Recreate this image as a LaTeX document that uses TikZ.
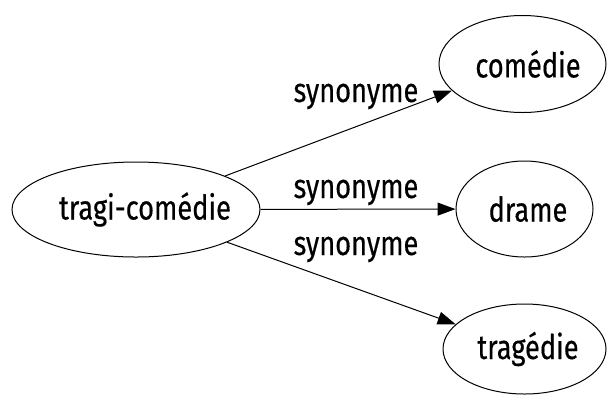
\documentclass[tikz,border=0pt]{standalone}
\usepackage{fontspec}
\setmainfont{Fira Sans}[FakeStretch=0.8,FakeBold=0.4]
\usetikzlibrary{arrows.meta,shapes.geometric}
\newcommand{\shiftedtext}[2]{\makebox[0pt][c]{\hspace*{#1}#2}}
\begin{document}
\begin{tikzpicture}[x=1bp,y=-1bp,
  word/.style={draw,ellipse,line width=1bp,inner sep=0pt,font=\fontsize{34bp}{40bp}\selectfont},
  lbl/.style={anchor=base,inner sep=0pt,font=\fontsize{34bp}{40bp}\selectfont},
  link/.style={line width=1bp,-{Triangle[length=18bp,width=13bp]}}]
\useasboundingbox (0,0) rectangle (609,394);
\node[word,minimum width=248bp,minimum height=95bp] (t) at (136,209.5) {\shiftedtext{18bp}{tragi-comédie}};
\node[word,minimum width=167bp,minimum height=97bp] (c) at (522.5,64) {\shiftedtext{11bp}{comédie}};
\node[word,minimum width=137bp,minimum height=96bp] (d) at (524.5,209) {\shiftedtext{7bp}{drame}};
\node[word,minimum width=163bp,minimum height=90bp] (g) at (524.5,349) {\shiftedtext{7bp}{tragédie}};
\draw[link] (t) -- (c);
\draw[link] (t) -- (d);
\draw[link] (t) -- (g);
\node[lbl] (l1) at (356,102) {synonyme};
\node[lbl] (l2) at (356,198) {synonyme};
\node[lbl] (l3) at (356,255) {synonyme};
\end{tikzpicture}
\end{document}
